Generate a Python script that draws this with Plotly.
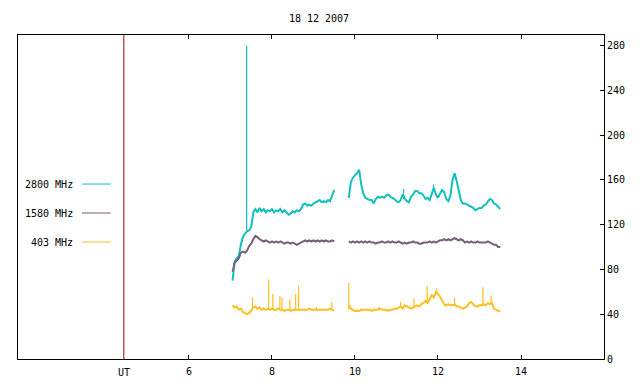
import plotly.graph_objects as go

# ---------------- data ----------------
title_text = "18 12 2007"
ut_hour = 4.43
x_tick_vals = [6, 8, 10, 12, 14]
y_tick_vals = [0, 40, 80, 120, 160, 200, 240, 280]

series_names = ["2800 MHz", "1580 MHz", "403 MHz"]
series_colors = ["#12bfbf", "#7a5c7d", "#fdbf23"]

time_a = [7.05, 7.10, 7.15, 7.20, 7.25, 7.30, 7.35, 7.40, 7.45, 7.50,
          7.55, 7.60, 7.65, 7.70, 7.75, 7.80, 7.85, 7.90, 7.95, 8.00,
          8.05, 8.10, 8.15, 8.20, 8.25, 8.30, 8.35, 8.40, 8.45, 8.50,
          8.55, 8.60, 8.65, 8.70, 8.75, 8.80, 8.85, 8.90, 8.95, 9.00,
          9.05, 9.10, 9.15, 9.20, 9.25, 9.30, 9.35, 9.40, 9.45, 9.50]
time_b = [9.85, 9.90, 9.95, 10.00, 10.05, 10.10, 10.15, 10.20, 10.25, 10.30,
          10.35, 10.40, 10.45, 10.50, 10.55, 10.60, 10.65, 10.70, 10.75, 10.80,
          10.85, 10.90, 10.95, 11.00, 11.05, 11.10, 11.15, 11.20, 11.25, 11.30,
          11.35, 11.40, 11.45, 11.50, 11.55, 11.60, 11.65, 11.70, 11.75, 11.80,
          11.85, 11.90, 11.95, 12.00, 12.05, 12.10, 12.15, 12.20, 12.25, 12.30,
          12.35, 12.40, 12.45, 12.50, 12.55, 12.60, 12.65, 12.70, 12.75, 12.80,
          12.85, 12.90, 12.95, 13.00, 13.05, 13.10, 13.15, 13.20, 13.25, 13.30,
          13.35, 13.40, 13.45, 13.50]

f2800_a = [70, 87, 90, 92, 102, 109, 112, 114, 115, 118,
           131, 134, 131, 135, 132, 134, 131, 133, 132, 134,
           131, 133, 132, 134, 131, 133, 131, 129, 130, 132,
           131, 133, 132, 134, 138, 139, 137, 138, 137, 139,
           140, 141, 142, 140, 141, 140, 142, 141, 146, 151]
f2800_b = [144, 158, 162, 164, 166, 169, 156, 148, 144, 143,
           142, 142, 139, 143, 145, 144, 145, 144, 146, 147,
           145, 144, 143, 141, 140, 142, 147, 143, 141, 140,
           145, 147, 150, 150, 148, 148, 146, 143, 144, 142,
           148, 153, 147, 144, 148, 151, 149, 143, 141, 146,
           160, 166, 159, 150, 142, 139, 139, 138, 137, 136,
           135, 133, 134, 135, 135, 137, 138, 141, 143, 142,
           139, 138, 136, 134]

f1580_a = [78, 86, 88, 90, 95, 96, 95, 97, 101, 103,
           107, 110, 109, 107, 106, 105, 106, 105, 104, 105,
           104, 105, 104, 105, 104, 103, 104, 104, 103, 104,
           103, 102, 103, 104, 105, 106, 105, 106, 105, 106,
           105, 106, 105, 106, 105, 106, 105, 105, 106, 105]
f1580_b = [105, 104, 105, 104, 105, 104, 105, 104, 105, 104,
           105, 104, 104, 103, 104, 104, 105, 104, 104, 105,
           104, 105, 104, 104, 105, 104, 103, 104, 103, 104,
           104, 105, 104, 104, 103, 103, 104, 104, 104, 105,
           104, 105, 104, 105, 106, 106, 107, 106, 107, 106,
           107, 108, 107, 106, 107, 106, 104, 105, 104, 105,
           104, 104, 105, 104, 104, 104, 104, 105, 104, 103,
           102, 102, 100, 100]

f403_a = [48, 46, 47, 44, 45, 42, 41, 40, 41, 44,
          46, 47, 45, 46, 44, 45, 44, 45, 44, 45,
          44, 44, 45, 44, 44, 43, 44, 44, 43, 44,
          44, 44, 44, 44, 44, 44, 44, 45, 44, 44,
          44, 44, 44, 44, 44, 44, 44, 45, 44, 43]
f403_b = [48, 45, 44, 43, 43, 43, 44, 44, 44, 44,
          44, 43, 44, 44, 44, 45, 44, 44, 44, 43,
          44, 44, 45, 45, 46, 47, 45, 48, 47, 46,
          45, 46, 47, 48, 47, 49, 50, 52, 50, 54,
          57, 55, 60, 58, 56, 52, 49, 48, 49, 48,
          48, 49, 47, 47, 46, 45, 46, 47, 50, 51,
          49, 47, 47, 48, 48, 49, 48, 50, 49, 50,
          45, 44, 43, 43]

# short spikes: time, base value, peak value
spike2800_t = [7.39, 11.17, 11.89]
spike2800_lo = [114, 143, 150]
spike2800_hi = [280, 152, 156]

spike403_t = [7.53, 7.92, 8.02, 8.19, 8.24, 8.43, 8.57, 8.64, 9.07, 9.44,
              9.85, 10.58, 11.10, 11.42, 11.74, 11.97, 12.40, 13.08, 13.28]
spike403_lo = [45, 45, 45, 44, 44, 43, 44, 44, 44, 44,
               44, 44, 46, 46, 51, 58, 48, 48, 49]
spike403_hi = [55, 71, 58, 56, 55, 53, 58, 65, 47, 51,
               68, 47, 51, 54, 65, 63, 55, 64, 57]

# ---------------- figure ----------------
FONT = "DejaVu Sans Mono"

def joined(ta, va, tb, vb):
    return ta + [None] + tb, va + [None] + vb

def spikes(ts, lo, hi):
    xs, ys = [], []
    for t, a, b in zip(ts, lo, hi):
        xs += [t, t, None]
        ys += [a, b, None]
    return xs, ys

fig = go.Figure()

series = [
    (f2800_a, f2800_b, spike2800_t, spike2800_lo, spike2800_hi),
    (f1580_a, f1580_b, None, None, None),
    (f403_a, f403_b, spike403_t, spike403_lo, spike403_hi),
]
for (va, vb, st, slo, shi), name, col in zip(series, series_names, series_colors):
    x, y = joined(time_a, va, time_b, vb)
    fig.add_trace(go.Scatter(x=x, y=y, mode="lines", name=name,
                             line=dict(color=col, width=2), connectgaps=False,
                             showlegend=False, hoverinfo="skip"))
    if st:
        sx, sy = spikes(st, slo, shi)
        fig.add_trace(go.Scatter(x=sx, y=sy, mode="lines",
                                 line=dict(color=col, width=1.2),
                                 showlegend=False, hoverinfo="skip"))

# red UT marker line
fig.add_shape(type="line", x0=ut_hour, x1=ut_hour, y0=0, y1=1, xref="x", yref="paper",
              line=dict(color="#a00000", width=1))
fig.add_annotation(x=ut_hour, y=0, xref="x", yref="paper", text="UT", showarrow=False,
                   yanchor="top", yshift=-6, font=dict(family=FONT, size=10, color="black"))

# legend (drawn manually, like the gnuplot key)
leg_y = [0.540, 0.4506, 0.3611]
for name, col, ly in zip(series_names, series_colors, leg_y):
    fig.add_annotation(x=0.0973, y=ly, xref="paper", yref="paper", text=name,
                       showarrow=False, xanchor="right", yanchor="middle",
                       font=dict(family=FONT, size=10, color="black"))
    fig.add_shape(type="line", x0=0.1092, x1=0.1582, y0=ly, y1=ly,
                  xref="paper", yref="paper", line=dict(color=col, width=1))

fig.update_layout(
    width=640, height=384,
    margin=dict(l=10, r=44, t=27, b=33),
    paper_bgcolor="white", plot_bgcolor="white",
    font=dict(family=FONT, size=10, color="black"),
    title=dict(text=title_text, x=0.486, xanchor="center", y=1 - 10 / 384, yanchor="middle",
               font=dict(family=FONT, size=10, color="black")),
    showlegend=False,
)
fig.update_xaxes(range=[1.88, 16.0], tickvals=x_tick_vals, ticks="inside", ticklen=4,
                 tickcolor="black", showline=True, linecolor="black", linewidth=1,
                 mirror="ticks", showgrid=False, zeroline=False, ticklabelstandoff=3,
                 tickfont=dict(family=FONT, size=10, color="black"))
fig.update_yaxes(range=[0, 289.5], tickvals=y_tick_vals, side="right", ticks="inside",
                 ticklen=4, tickcolor="black", showline=True, linecolor="black", linewidth=1,
                 mirror=True, showgrid=False, zeroline=False,
                 tickfont=dict(family=FONT, size=10, color="black"))

fig.write_html("out.html")
